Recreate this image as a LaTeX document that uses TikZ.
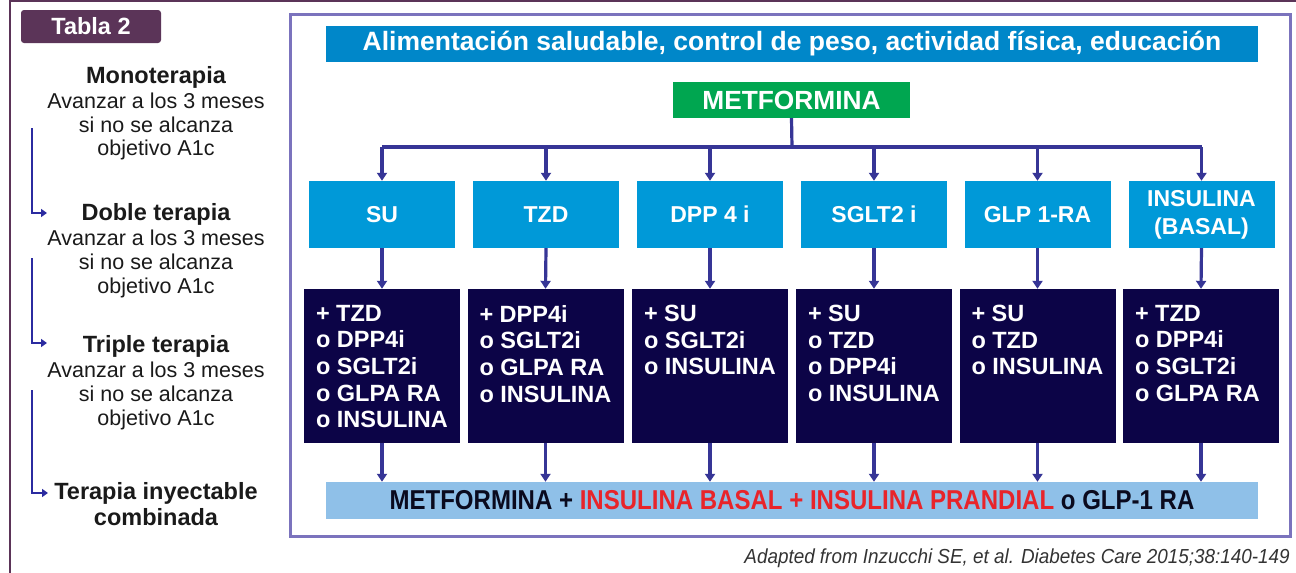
\documentclass[tikz,border=0pt]{standalone}
\usepackage{fontspec}
\setmainfont{Liberation Sans}
\newfontfamily\condfont{Liberation Sans}[FakeStretch=0.88]
\newfontfamily\citefont{Liberation Sans}[FakeStretch=0.93]
\usetikzlibrary{arrows.meta,calc}
\definecolor{plum}{HTML}{5B3458}
\definecolor{framec}{HTML}{7B73BD}
\definecolor{bannerc}{HTML}{0087C9}
\definecolor{greenc}{HTML}{00A650}
\definecolor{boxblue}{HTML}{0099D8}
\definecolor{navy}{HTML}{0C0447}
\definecolor{connc}{HTML}{363596}
\definecolor{barc}{HTML}{8FC0E8}
\definecolor{larrc}{HTML}{2B2BA0}
\definecolor{txt}{HTML}{1A1A1A}
\definecolor{redc}{HTML}{E8242A}
\definecolor{citec}{HTML}{333333}
\definecolor{bartxt}{HTML}{0A0A1E}
\begin{document}
\begin{tikzpicture}[x=1pt,y=-1pt,
  conn/.style={draw=connc, line width=3.2pt},
  arr/.style={conn, -{Triangle[width=10pt,length=8pt]}},
  bluebox/.style={fill=boxblue, minimum width=146pt, minimum height=67pt, inner sep=0pt, text=white, font=\bfseries\fontsize{23}{28}\selectfont, align=center},
  darkbox/.style={fill=navy, minimum width=156pt, minimum height=154pt, inner sep=0pt},
  darktext/.style={text=white, font=\bfseries\fontsize{23.5}{26.7}\selectfont, align=left, inner sep=0pt, anchor=north west},
  lhead/.style={font=\bfseries\fontsize{23.5}{24}\selectfont, text=txt, anchor=base, inner sep=0pt},
  ltext/.style={font=\fontsize{21.5}{24}\selectfont, text=txt, anchor=base, inner sep=0pt},
  larr/.style={draw=larrc, line width=2.6pt, -{Triangle[width=8pt,length=6pt]}}
]
\useasboundingbox (0,0) rectangle (1296,573);
\fill[white] (0,0) rectangle (1296,573);
% outer frame
\draw[plum, line width=2.5pt] (1296,1) -- (10,1) -- (10,573);
% badge
\node[fill=plum, rounded corners=3pt, minimum width=140pt, minimum height=33pt, inner sep=0pt, text=white, font=\bfseries\fontsize{23.5}{26}\selectfont] (tabla) at (91,26.5) {Tabla 2};
% left column
\node[lhead] (mono) at (156,83) {Monoterapia};
\node[ltext] (m1) at (156,108) {Avanzar a los 3 meses};
\node[ltext] (m2) at (156,132) {si no se alcanza};
\node[ltext] (m3) at (156,155) {objetivo A1c};
\node[lhead] (doble) at (156,220) {Doble terapia};
\node[ltext] (dt1) at (156,245) {Avanzar a los 3 meses};
\node[ltext] (dt2) at (156,269) {si no se alcanza};
\node[ltext] (dt3) at (156,293) {objetivo A1c};
\node[lhead] (triple) at (156,352) {Triple terapia};
\node[ltext] (t1) at (156,377) {Avanzar a los 3 meses};
\node[ltext] (t2) at (156,401) {si no se alcanza};
\node[ltext] (t3) at (156,425) {objetivo A1c};
\node[lhead] (iny) at (156,499) {Terapia inyectable};
\node[lhead] (iny2) at (156,525) {combinada};
\coordinate (la1) at (32,128); \coordinate (la1e) at (47,213);
\coordinate (la2) at (32,258); \coordinate (la2e) at (47,343);
\coordinate (la3) at (32,390); \coordinate (la3e) at (48,493);
\draw[larr] (la1) |- (la1e);
\draw[larr] (la2) |- (la2e);
\draw[larr] (la3) |- (la3e);
% inner frame
\draw[framec, line width=3pt] (290,14) rectangle (1290,536);
% banner
\node[fill=bannerc, minimum width=932pt, minimum height=36pt, inner sep=0pt, text=white, font=\bfseries\fontsize{26.5}{30}\selectfont] (banner) at (792,44) {Alimentación saludable, control de peso, actividad física, educación};
\node[fill=greenc, minimum width=237pt, minimum height=36pt, inner sep=0pt, text=white, font=\bfseries\fontsize{26.3}{30}\selectfont] (met) at (791.5,100) {METFORMINA};
% blue boxes
\node[bluebox] (su) at (382,214.5) {SU};
\node[bluebox] (tzd) at (546,214.5) {TZD};
\node[bluebox] (dpp) at (710,214.5) {DPP 4 i};
\node[bluebox] (sglt) at (874,214.5) {SGLT2 i};
\node[bluebox] (glp) at (1037.5,214.5) {GLP 1-RA};
\node[bluebox] (ins) at (1201.5,214.5) {INSULINA\\(BASAL)};
% bus
\coordinate (bus) at (792,147);
\draw[conn] (met.south) -- (bus);
\draw[conn] (su.north |- bus) -- (ins.north |- bus);
\foreach \n in {su,tzd,dpp,sglt,glp,ins} \draw[arr] (\n.north |- bus) -- (\n.north);
% dark boxes
\node[darkbox] (d1) at (382,366) {};
\node[darkbox] (d2) at (545.5,366) {};
\node[darkbox] (d3) at (710,366) {};
\node[darkbox] (d4) at (874,366) {};
\node[darkbox] (d5) at (1037.5,366) {};
\node[darkbox] (d6) at (1201,366) {};
\node[darktext] (d1t) at ($(d1.north west)+(12,16)$) {+ TZD\\o DPP4i\\o SGLT2i\\o GLPA RA\\o INSULINA};
\node[darktext] (d2t) at ($(d2.north west)+(12,16)$) {+ DPP4i\\o SGLT2i\\o GLPA RA\\o INSULINA};
\node[darktext] (d3t) at ($(d3.north west)+(12,16)$) {+ SU\\o SGLT2i\\o INSULINA};
\node[darktext] (d4t) at ($(d4.north west)+(12,16)$) {+ SU\\o TZD\\o DPP4i\\o INSULINA};
\node[darktext] (d5t) at ($(d5.north west)+(12,16)$) {+ SU\\o TZD\\o INSULINA};
\node[darktext] (d6t) at ($(d6.north west)+(12,16)$) {+ TZD\\o DPP4i\\o SGLT2i\\o GLPA RA};
\draw[arr] (su.south) -- (d1.north);
\draw[arr] (tzd.south) -- (d2.north);
\draw[arr] (dpp.south) -- (d3.north);
\draw[arr] (sglt.south) -- (d4.north);
\draw[arr] (glp.south) -- (d5.north);
\draw[arr] (ins.south) -- (d6.north);
% bottom bar
\node[fill=barc, minimum width=932pt, minimum height=37pt, inner sep=0pt, font=\condfont\bfseries\fontsize{27.3}{30}\selectfont, text=bartxt] (bar) at (792,500.5) {METFORMINA + \textcolor{redc}{INSULINA BASAL + INSULINA PRANDIAL} o GLP-1 RA};
\foreach \n in {d1,d2,d3,d4,d5,d6} \draw[arr] (\n.south) -- (\n.south |- bar.north);
% citation
\node[anchor=base east, inner sep=0pt, font=\citefont\itshape\fontsize{20.3}{22}\selectfont, text=citec] (cite) at (1290,563) {Adapted from Inzucchi SE, et al. Diabetes Care 2015;38:140-149};
\end{tikzpicture}
\end{document}
